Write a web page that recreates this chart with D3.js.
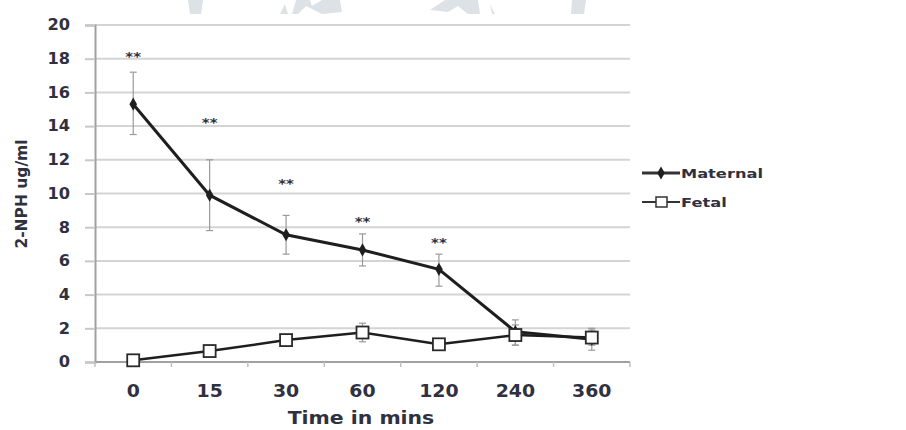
<!DOCTYPE html>
<html><head><meta charset="utf-8">
<script src="https://cdn.jsdelivr.net/npm/d3@7"></script>
<style>
body{margin:0;background:#fff;}
svg text{font-family:"DejaVu Sans",Arial,sans-serif;font-weight:700;fill:#30303f;}
</style></head>
<body><svg id="c" width="906" height="430"></svg>
<script>
const categories = ["0","15","30","60","120","240","360"];
const maternal = [15.3, 9.9, 7.55, 6.65, 5.5, 1.8, 1.35];
const maternalLow = [13.5, 7.8, 6.4, 5.7, 4.5, 1.0, 0.7];
const maternalHigh = [17.2, 12.0, 8.7, 7.6, 6.4, 2.5, 2.0];
const fetal = [0.1, 0.65, 1.3, 1.75, 1.05, 1.6, 1.45];
const fetalLow = [0.05, 0.45, 1.1, 1.2, 0.9, 1.0, 1.0];
const fetalHigh = [0.2, 0.85, 1.5, 2.3, 1.2, 2.2, 1.9];
const stars = ["**","**","**","**","**","",""];
const starLevel = [18.2, 14.3, 10.7, 8.4, 7.2, null, null];
const yTicks = [0,2,4,6,8,10,12,14,16,18,20];
const seriesNames = ["Maternal","Fetal"];

const svg = d3.select("#c");

// horizontal stretch of text about its own x position
function stretch(sel, s){
  sel.each(function(){
    const t = d3.select(this);
    const x0 = +(t.attr("x")||0);
    t.attr("transform", `translate(${x0},0) scale(${s},1) translate(${-x0},0)`);
  });
}

// faint watermark shapes at top
const wm = svg.append("g").attr("fill","#dde2e6");
wm.append("path").attr("d","M188,0 L203,0 L201,14 L190,14 Z");
wm.append("path").attr("d","M280,14 L285,4 L288,14 Z");
wm.append("path").attr("d","M292,14 L296,0 L310,0 L312,6 L322,0 L340,0 L342,12 L322,14 L306,6 L298,14 Z");
wm.append("path").attr("d","M430,10 L445,0 L478,0 L480,14 L468,14 L458,6 L448,12 Z");
wm.append("path").attr("d","M490,4 L495,14 L492,14 Z");
wm.append("path").attr("d","M572,0 L586,0 L584,14 L571,14 Z");

const x = d3.scaleBand().domain(categories).range([95,630]);
const y = d3.scaleLinear().domain([0,20]).range([362,25]);
const cx = d => x(d) + x.bandwidth()/2;

// gridlines
svg.append("g").selectAll("line").data(yTicks.filter(t=>t>0)).join("line")
  .attr("x1",95).attr("x2",630).attr("y1",d=>y(d)).attr("y2",d=>y(d))
  .attr("stroke","#d4d4d4").attr("stroke-width",2);

// y axis
const yAxis = svg.append("g").attr("transform","translate(95,0)")
  .call(d3.axisLeft(y).tickValues(yTicks).tickSize(10).tickPadding(15));
yAxis.select(".domain").attr("stroke","#a0a0a0").attr("stroke-width",2);
yAxis.selectAll(".tick line").attr("stroke","#c8c8c8").attr("stroke-width",2);
yAxis.selectAll("text").attr("font-size",15).attr("fill","#30303f")
  .attr("font-family","'DejaVu Sans',sans-serif").call(stretch,1.08);

// x axis
const xAxis = svg.append("g").attr("transform","translate(0,362)")
  .call(d3.axisBottom(x).tickSize(0).tickPadding(22));
xAxis.select(".domain").attr("stroke","#a0a0a0").attr("stroke-width",2).attr("d","M95,0H630");
xAxis.selectAll("text").attr("font-size",18).attr("fill","#30303f")
  .attr("font-family","'DejaVu Sans',sans-serif").call(stretch,1.05);
svg.append("g").selectAll("line").data(d3.range(categories.length+1)).join("line")
  .attr("x1",i=>95+i*x.step()).attr("x2",i=>95+i*x.step())
  .attr("y1",362).attr("y2",367).attr("stroke","#c0c0c0").attr("stroke-width",1.5);

// axis titles
svg.append("text").attr("transform","translate(27,194) rotate(-90)")
  .attr("text-anchor","middle").attr("font-size",15.5).text("2-NPH ug/ml");
svg.append("text").attr("x",361).attr("y",424)
  .attr("text-anchor","middle").attr("font-size",17).text("Time in mins").call(stretch,1.2);

// error bars
function errBars(lo, hi){
  const g = svg.append("g").attr("stroke","#9a9a9a").attr("stroke-width",1.2);
  categories.forEach((c,i)=>{
    g.append("line").attr("x1",cx(c)).attr("x2",cx(c)).attr("y1",y(lo[i])).attr("y2",y(hi[i]));
    g.append("line").attr("x1",cx(c)-3.5).attr("x2",cx(c)+3.5).attr("y1",y(lo[i])).attr("y2",y(lo[i]));
    g.append("line").attr("x1",cx(c)-3.5).attr("x2",cx(c)+3.5).attr("y1",y(hi[i])).attr("y2",y(hi[i]));
  });
}
errBars(maternalLow, maternalHigh);
errBars(fetalLow, fetalHigh);

const line = d3.line().x((d,i)=>cx(categories[i])).y(d=>y(d));
svg.append("path").datum(fetal).attr("d",line).attr("fill","none")
  .attr("stroke","#1e1e1e").attr("stroke-width",2.5);
svg.append("path").datum(maternal).attr("d",line).attr("fill","none")
  .attr("stroke","#1e1e1e").attr("stroke-width",3);

const diamond = d3.symbol().type(d3.symbolDiamond).size(50);
svg.append("g").selectAll("path").data(maternal).join("path")
  .attr("d",diamond).attr("transform",(d,i)=>`translate(${cx(categories[i])},${y(d)})`)
  .attr("fill","#1e1e1e");
svg.append("g").selectAll("rect").data(fetal).join("rect")
  .attr("x",(d,i)=>cx(categories[i])-6).attr("y",d=>y(d)-6)
  .attr("width",12).attr("height",12).attr("fill","#fff")
  .attr("stroke","#2a2a2a").attr("stroke-width",1.8);

// significance stars
svg.append("g").selectAll("text").data(stars).join("text")
  .filter((d,i)=>starLevel[i]!==null)
  .attr("x",(d,i)=>cx(categories[i])).attr("y",(d,i)=>y(starLevel[i])+6)
  .attr("text-anchor","middle").attr("font-size",12).attr("fill","#3a3a55")
  .text(d=>d).call(stretch,1.25);

// legend
const lg = svg.append("g");
const ly = [173, 202];
lg.append("line").attr("x1",642).attr("x2",680).attr("y1",ly[0]).attr("y2",ly[0]).attr("stroke","#333").attr("stroke-width",3);
lg.append("path").attr("d",diamond).attr("transform",`translate(661,${ly[0]})`).attr("fill","#1e1e1e");
lg.append("line").attr("x1",642).attr("x2",680).attr("y1",ly[1]).attr("y2",ly[1]).attr("stroke","#333").attr("stroke-width",2);
lg.append("rect").attr("x",656).attr("y",ly[1]-5).attr("width",11).attr("height",10).attr("fill","#fff").attr("stroke","#333").attr("stroke-width",1.5);
lg.selectAll("text").data(seriesNames).join("text")
  .attr("x",681).attr("y",(d,i)=>ly[i]+5).attr("font-size",13).attr("fill","#3a3a55")
  .text(d=>d).call(stretch,1.25);
</script></body></html>
